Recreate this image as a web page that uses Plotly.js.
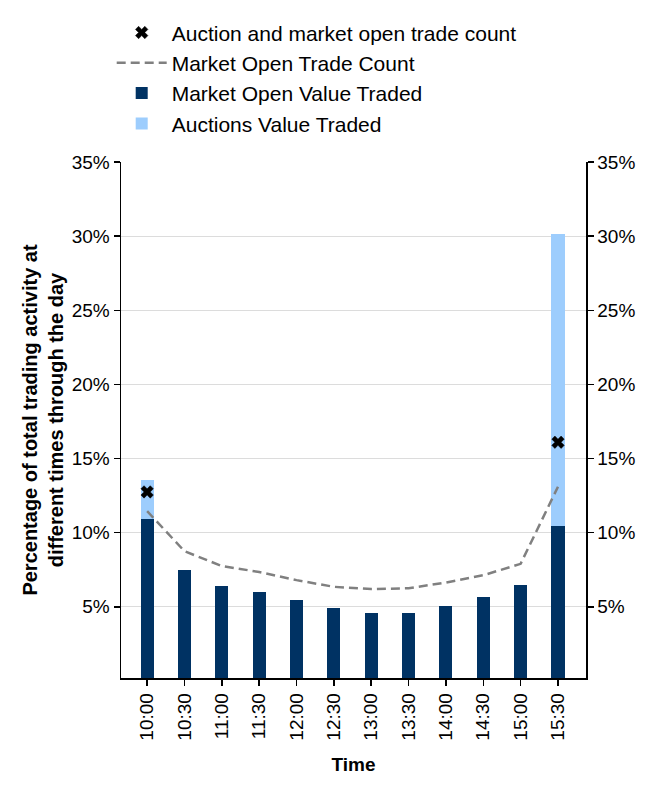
<!DOCTYPE html>
<html>
<head>
<meta charset="utf-8">
<script src="https://cdn.plot.ly/plotly-3.0.1.min.js"></script>
<style>
  body { margin: 0; background: #fff; }
  #chart { width: 657px; height: 789px; }
</style>
</head>
<body>
<div id="chart"></div>
<script>
// times of day
const times = ['10:00', '10:30', '11:00', '11:30', '12:00', '12:30', '13:00', '13:30', '14:00', '14:30', '15:00', '15:30'];

// share of value traded (%)
const marketOpenValue = [10.9, 7.47, 6.4, 6.0, 5.47, 4.93, 4.6, 4.6, 5.07, 5.67, 6.47, 10.47];
const auctionsValue = [2.65, 0, 0, 0, 0, 0, 0, 0, 0, 0, 0, 19.7];

// share of trade count (%)
const marketOpenCount = [11.45, 8.75, 7.75, 7.35, 6.8, 6.35, 6.2, 6.25, 6.64, 7.13, 7.9, 13.1];
const auctionTimes = ['10:00', '15:30'];
const auctionAndOpenCount = [12.75, 16.1];

const tickVals = [5, 10, 15, 20, 25, 30, 35];
const tickText = tickVals.map(v => v + '%');

const FONT = 'Liberation Sans, Arial, sans-serif';

const traces = [
  {
    x: auctionTimes,
    y: auctionAndOpenCount,
    name: 'Auction and market open trade count',
    legendgroup: 'a',
    type: 'scatter',
    mode: 'markers',
    yaxis: 'y2',
    marker: { symbol: 'x', color: '#000000', size: 11, line: { width: 0.5, color: '#000' } },
  },
  {
    x: times,
    y: marketOpenCount,
    name: 'Market Open Trade Count',
    legendgroup: 'b',
    type: 'scatter',
    mode: 'lines',
    yaxis: 'y2',
    line: { color: '#808080', width: 2.5, dash: '9px,5px' },
  },
  {
    x: times,
    y: marketOpenValue,
    name: 'Market Open Value Traded',
    legendgroup: 'c',
    type: 'bar',
    width: 0.35,
    marker: { color: '#003263' },
  },
  {
    x: times,
    y: auctionsValue,
    name: 'Auctions Value Traded',
    legendgroup: 'd',
    type: 'bar',
    width: 0.35,
    marker: { color: '#9dcdfd' },
  },
];

const yCommon = {
  range: [0.2, 35],
  tickvals: tickVals,
  ticktext: tickText,
  ticks: 'outside',
  ticklen: 6,
  tickwidth: 1.5,
  tickcolor: '#000',
  showline: true,
  linecolor: '#000',
  linewidth: 1.5,
  zeroline: false,
  tickfont: { size: 19, color: '#000' },
};

const layout = {
  width: 657,
  height: 789,
  margin: { l: 121, r: 71, t: 160, b: 111 },
  paper_bgcolor: '#fff',
  plot_bgcolor: '#fff',
  font: { family: FONT, color: '#000', size: 19 },
  barmode: 'stack',
  showlegend: true,
  legend: {
    x: -0.02, xanchor: 'left',
    y: 1.29, yanchor: 'top',
    traceorder: 'grouped',
    tracegroupgap: 0,
    font: { size: 21, color: '#000' },
    itemwidth: 50,
  },
  xaxis: {
    type: 'category',
    categoryorder: 'array',
    categoryarray: times,
    range: [-0.7, 11.75],
    ticks: 'outside',
    ticklen: 6,
    tickwidth: 1.5,
    tickcolor: '#000',
    tickangle: -90,
    showline: true,
    linecolor: '#000',
    linewidth: 1.5,
    showgrid: false,
    tickfont: { size: 19, color: '#000' },
    title: { text: '<b>Time</b>', font: { size: 19 }, standoff: 18 },
  },
  yaxis: Object.assign({}, yCommon, {
    showgrid: true,
    gridcolor: '#dcdcdc',
    gridwidth: 1,
    title: {
      text: '<b>Percentage of total trading activity at<br>different times through the day</b>',
      font: { size: 20 },
      standoff: 2,
    },
  }),
  yaxis2: Object.assign({}, yCommon, {
    overlaying: 'y',
    side: 'right',
    showgrid: false,
  }),
};

Plotly.newPlot('chart', traces, layout, { staticPlot: true });
</script>
</body>
</html>
